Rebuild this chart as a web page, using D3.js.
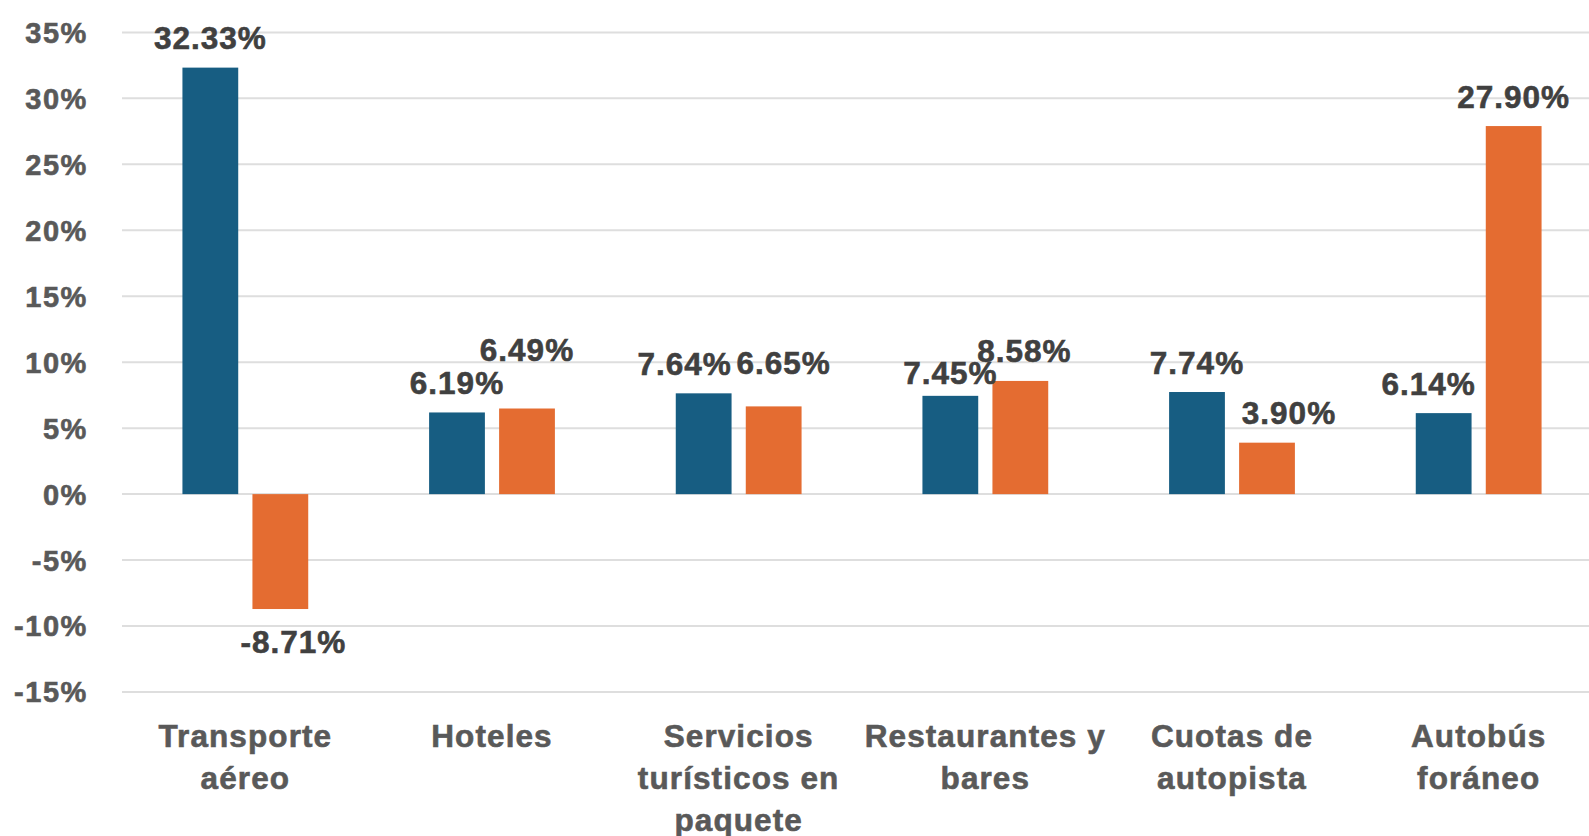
<!DOCTYPE html>
<html>
<head>
<meta charset="utf-8">
<script src="https://cdn.jsdelivr.net/npm/d3@7"></script>
<style>
  body { margin: 0; background: #fff; }
  svg { display: block; font-family: "Liberation Sans", Arial, sans-serif; font-weight: bold; }
</style>
</head>
<body>
<svg id="chart"></svg>
<script>
"use strict";

const width = 1589
const height = 836

// data
const categories = ["Transporte aéreo", "Hoteles", "Servicios turísticos en paquete",
    "Restaurantes y bares", "Cuotas de autopista", "Autobús foráneo"]
const categoryLines = [["Transporte", "aéreo"], ["Hoteles"], ["Servicios", "turísticos en", "paquete"],
    ["Restaurantes y", "bares"], ["Cuotas de", "autopista"], ["Autobús", "foráneo"]]
const seriesA = [32.33, 6.19, 7.64, 7.45, 7.74, 6.14]
const seriesB = [-8.71, 6.49, 6.65, 8.58, 3.90, 27.90]
const yTicks = [-15, -10, -5, 0, 5, 10, 15, 20, 25, 30, 35]

const colors = { a: "#175d82", b: "#e46c31" }

// label nudges so overlapping labels sit like the original (layout only)
const nudgeA = [[0, 0], [0, 0], [-19, 0], [0, 7], [0, 0], [-15, 0]]
const nudgeB = [[13, 3], [0, -29], [10, -14], [4, 0], [22, 0], [0, 0]]

const svg = d3.select("#chart").attr("width", width).attr("height", height)

const x = d3.scaleBand()
    .domain(categories)
    .range([122, 1602])
    .paddingInner(0.49)
    .paddingOuter(0.245)

const xInner = d3.scaleBand()
    .domain(["a", "b"])
    .range([0, x.bandwidth()])
    .paddingInner(0.203)
    .paddingOuter(0)

const y = d3.scaleLinear().domain([-15, 35]).range([692, 32.4])

// gridlines
svg.append("g")
    .selectAll("line")
    .data(yTicks)
    .join("line")
    .attr("x1", 122)
    .attr("x2", 1602)
    .attr("y1", d => y(d))
    .attr("y2", d => y(d))
    .attr("stroke", "#dedede")
    .attr("stroke-width", 2)

// y tick labels
svg.append("g")
    .selectAll("text")
    .data(yTicks)
    .join("text")
    .attr("x", 88)
    .attr("y", d => y(d))
    .attr("dy", "0.36em")
    .attr("text-anchor", "end")
    .attr("fill", "#595959")
    .attr("stroke", "#595959")
    .attr("stroke-width", 0.6)
    .attr("font-size", 29)
    .attr("letter-spacing", 1.6)
    .text(d => d + "%")

const rows = categories.map((c, i) => ({ cat: c, a: seriesA[i], b: seriesB[i], i: i }))

const bars = [].concat(...rows.map(r => [
    { cat: r.cat, key: "a", v: r.a, nudge: nudgeA[r.i] },
    { cat: r.cat, key: "b", v: r.b, nudge: nudgeB[r.i] }]))

svg.append("g")
    .selectAll("rect")
    .data(bars)
    .join("rect")
    .attr("x", d => x(d.cat) + xInner(d.key))
    .attr("width", xInner.bandwidth())
    .attr("y", d => y(Math.max(0, d.v)))
    .attr("height", d => Math.abs(y(d.v) - y(0)))
    .attr("fill", d => colors[d.key])

// data labels
svg.append("g")
    .selectAll("text")
    .data(bars)
    .join("text")
    .attr("x", d => x(d.cat) + xInner(d.key) + xInner.bandwidth() / 2 + d.nudge[0])
    .attr("y", d => (d.v >= 0 ? y(d.v) - 18.5 : y(d.v) + 41) + d.nudge[1])
    .attr("text-anchor", "middle")
    .attr("fill", "#404040")
    .attr("stroke", "#404040")
    .attr("stroke-width", 0.6)
    .attr("font-size", 31.5)
    .attr("letter-spacing", 1)
    .text(d => d.v.toFixed(2) + "%")

// category labels
svg.append("g")
    .selectAll("text")
    .data(rows)
    .join("text")
    .attr("x", d => x(d.cat) + x.bandwidth() / 2)
    .attr("text-anchor", "middle")
    .attr("fill", "#595959")
    .attr("stroke", "#595959")
    .attr("stroke-width", 0.6)
    .attr("font-size", 31.5)
    .attr("letter-spacing", 1.1)
    .selectAll("tspan")
    .data(d => categoryLines[d.i].map((t, k) => ({ t, k, cx: x(d.cat) + x.bandwidth() / 2 })))
    .join("tspan")
    .attr("x", d => d.cx)
    .attr("y", d => 747 + d.k * 42)
    .text(d => d.t)
</script>
</body>
</html>
